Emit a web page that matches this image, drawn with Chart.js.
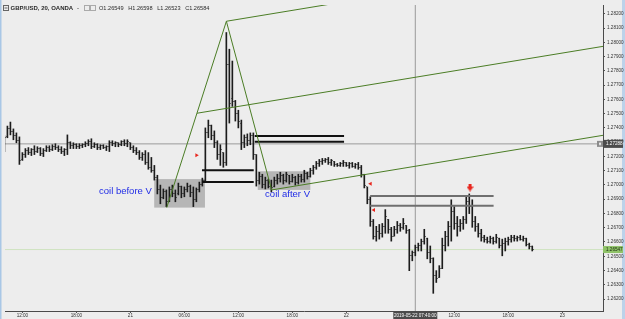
<!DOCTYPE html>
<html><head><meta charset="utf-8">
<script src="https://cdn.jsdelivr.net/npm/chart.js@4.4.1/dist/chart.umd.min.js"></script>
<style>
html,body{margin:0;padding:0;background:#ededed;}
canvas{display:block;}
</style></head><body>
<canvas id="c" width="625" height="319"></canvas>
<script>
// ---- DATA (GBP/USD 20-minute bars, hours relative to 2019-05-21 00:00) ----
const barStartHour = -14;           // first bar: 2019-05-20 10:00
const barStepHours = 1 / 3;         // 20-minute bars

const highs = [
1.27344,1.27413,1.27441,1.27393,1.27365,1.27337,1.27227,1.27255,1.27262,1.27255,
1.27275,1.27268,1.27262,1.27255,1.27275,1.27275,1.27282,1.27289,1.27275,1.27268,
1.27255,1.27351,1.27303,1.27296,1.27289,1.27289,1.27289,1.27303,1.27317,1.27324,
1.27296,1.27289,1.27282,1.27282,1.27275,1.27310,1.27310,1.27303,1.27296,1.27310,
1.27317,1.27317,1.27296,1.27275,1.27262,1.27241,1.27227,1.27241,1.27227,1.27193,
1.27137,1.27068,1.26999,1.26972,1.26965,1.26986,1.26999,1.26965,1.27013,1.26992,
1.26986,1.27013,1.26999,1.26986,1.26979,1.27020,1.27048,1.27400,1.27455,1.27420,
1.27379,1.27310,1.27282,1.27227,1.28069,1.27952,1.27869,1.27593,1.27524,1.27455,
1.27351,1.27358,1.27365,1.27365,1.27213,1.27089,1.27075,1.27055,1.27041,1.27034,
1.27055,1.27075,1.27089,1.27075,1.27089,1.27068,1.27075,1.27061,1.27075,1.27075,
1.27103,1.27089,1.27117,1.27137,1.27165,1.27179,1.27186,1.27186,1.27193,1.27179,
1.27165,1.27151,1.27158,1.27172,1.27158,1.27158,1.27158,1.27151,1.27158,1.27137,
1.27075,1.26986,1.26917,1.26758,1.26710,1.26723,1.26730,1.26827,1.26758,1.26703,
1.26710,1.26744,1.26730,1.26765,1.26716,1.26689,1.26537,1.26578,1.26592,1.26620,
1.26689,1.26627,1.26572,1.26489,1.26399,1.26434,1.26627,1.26675,1.26744,1.26896,
1.26848,1.26779,1.26758,1.26779,1.26917,1.26937,1.26896,1.26779,1.26730,1.26689,
1.26647,1.26634,1.26641,1.26634,1.26654,1.26627,1.26620,1.26627,1.26634,1.26647,
1.26647,1.26641,1.26647,1.26641,1.26627,1.26592,1.26572];

const lows = [
1.27234,1.27331,1.27351,1.27317,1.27296,1.27144,1.27172,1.27193,1.27213,1.27206,
1.27213,1.27227,1.27206,1.27199,1.27234,1.27234,1.27241,1.27248,1.27234,1.27220,
1.27206,1.27213,1.27255,1.27255,1.27255,1.27255,1.27262,1.27268,1.27275,1.27255,
1.27262,1.27248,1.27248,1.27255,1.27241,1.27234,1.27275,1.27268,1.27268,1.27275,
1.27275,1.27268,1.27248,1.27227,1.27213,1.27179,1.27172,1.27144,1.27110,1.27089,
1.27034,1.26937,1.26868,1.26903,1.26848,1.26882,1.26917,1.26882,1.26930,1.26910,
1.26917,1.26951,1.26917,1.26848,1.26882,1.26951,1.26992,1.27020,1.27331,1.27317,
1.27262,1.27179,1.27137,1.27124,1.27137,1.27434,1.27551,1.27448,1.27400,1.27248,
1.27262,1.27275,1.27282,1.27179,1.26992,1.27006,1.26979,1.26972,1.26979,1.26951,
1.26986,1.27006,1.27020,1.27006,1.27020,1.27006,1.27020,1.26999,1.27006,1.27020,
1.27020,1.27041,1.27055,1.27075,1.27110,1.27130,1.27144,1.27158,1.27144,1.27137,
1.27130,1.27130,1.27130,1.27130,1.27130,1.27117,1.27124,1.27117,1.27110,1.27055,
1.26979,1.26868,1.26710,1.26620,1.26606,1.26620,1.26634,1.26661,1.26661,1.26606,
1.26641,1.26661,1.26675,1.26689,1.26661,1.26399,1.26468,1.26503,1.26537,1.26537,
1.26585,1.26482,1.26454,1.26240,1.26316,1.26351,1.26413,1.26537,1.26572,1.26606,
1.26689,1.26641,1.26675,1.26689,1.26730,1.26799,1.26703,1.26675,1.26634,1.26606,
1.26599,1.26592,1.26592,1.26585,1.26592,1.26558,1.26503,1.26537,1.26578,1.26599,
1.26606,1.26606,1.26613,1.26606,1.26572,1.26551,1.26537];

const opens = [
1.27248,1.27337,1.27393,1.27372,1.27344,1.27310,1.27179,1.27213,1.27241,1.27227,
1.27248,1.27234,1.27255,1.27220,1.27241,1.27262,1.27248,1.27268,1.27262,1.27248,
1.27234,1.27248,1.27296,1.27275,1.27282,1.27268,1.27275,1.27282,1.27289,1.27303,
1.27268,1.27282,1.27262,1.27275,1.27262,1.27268,1.27296,1.27289,1.27296,1.27282,
1.27303,1.27289,1.27296,1.27262,1.27241,1.27227,1.27193,1.27213,1.27158,1.27124,
1.27103,1.27055,1.26965,1.26910,1.26951,1.26882,1.26965,1.26937,1.26937,1.26992,
1.26937,1.26965,1.26992,1.26944,1.26896,1.26965,1.27006,1.27034,1.27365,1.27420,
1.27344,1.27296,1.27213,1.27227,1.27158,1.27848,1.27607,1.27586,1.27503,1.27434,
1.27296,1.27331,1.27310,1.27344,1.27213,1.27034,1.27061,1.27006,1.27034,1.26992,
1.26986,1.27034,1.27048,1.27068,1.27034,1.27068,1.27027,1.27055,1.27020,1.27061,
1.27041,1.27082,1.27061,1.27103,1.27124,1.27151,1.27165,1.27172,1.27179,1.27158,
1.27165,1.27144,1.27137,1.27151,1.27158,1.27137,1.27151,1.27130,1.27144,1.27124,
1.27075,1.26986,1.26896,1.26744,1.26641,1.26675,1.26661,1.26710,1.26758,1.26689,
1.26641,1.26689,1.26716,1.26703,1.26716,1.26682,1.26503,1.26523,1.26558,1.26572,
1.26606,1.26627,1.26523,1.26482,1.26365,1.26351,1.26413,1.26572,1.26641,1.26710,
1.26813,1.26730,1.26710,1.26730,1.26758,1.26882,1.26848,1.26744,1.26710,1.26661,
1.26634,1.26620,1.26606,1.26627,1.26606,1.26627,1.26578,1.26592,1.26606,1.26620,
1.26634,1.26627,1.26634,1.26620,1.26627,1.26585,1.26565];

const closes = [
1.27331,1.27393,1.27372,1.27344,1.27310,1.27172,1.27213,1.27241,1.27227,1.27248,
1.27234,1.27255,1.27220,1.27241,1.27262,1.27248,1.27268,1.27262,1.27248,1.27234,
1.27248,1.27296,1.27275,1.27282,1.27268,1.27275,1.27282,1.27289,1.27303,1.27268,
1.27282,1.27262,1.27275,1.27262,1.27268,1.27296,1.27289,1.27296,1.27282,1.27303,
1.27289,1.27303,1.27262,1.27241,1.27227,1.27193,1.27213,1.27158,1.27124,1.27103,
1.27055,1.26965,1.26910,1.26951,1.26882,1.26965,1.26937,1.26910,1.26992,1.26937,
1.26965,1.26992,1.26944,1.26896,1.26965,1.27006,1.27034,1.27365,1.27420,1.27344,
1.27296,1.27213,1.27248,1.27158,1.27848,1.27572,1.27586,1.27503,1.27448,1.27296,
1.27331,1.27310,1.27344,1.27213,1.27034,1.27061,1.27006,1.27034,1.26992,1.26979,
1.27034,1.27048,1.27068,1.27034,1.27075,1.27027,1.27055,1.27020,1.27061,1.27041,
1.27082,1.27061,1.27103,1.27124,1.27151,1.27165,1.27172,1.27179,1.27158,1.27172,
1.27144,1.27137,1.27151,1.27158,1.27137,1.27151,1.27130,1.27144,1.27124,1.27075,
1.26999,1.26896,1.26744,1.26641,1.26675,1.26661,1.26710,1.26779,1.26689,1.26641,
1.26689,1.26716,1.26703,1.26730,1.26682,1.26503,1.26523,1.26558,1.26572,1.26606,
1.26641,1.26523,1.26482,1.26365,1.26344,1.26413,1.26572,1.26641,1.26710,1.26813,
1.26730,1.26710,1.26730,1.26758,1.26882,1.26848,1.26744,1.26710,1.26661,1.26634,
1.26620,1.26606,1.26627,1.26606,1.26634,1.26578,1.26592,1.26606,1.26620,1.26634,
1.26627,1.26634,1.26620,1.26627,1.26585,1.26565,1.26547];

const barTimes = highs.map((_, i) => barStartHour + i * barStepHours);

const xTickValues = [-12, -6, 0, 6, 12, 18, 24, 30, 36, 42, 48];
const xTickLabels = ['12:00','18:00','21','06:00','12:00','18:00','22','06:00','12:00','18:00','23'];
const yTickValues = [1.262,1.263,1.264,1.265,1.266,1.267,1.268,1.269,1.270,1.271,1.272,
                     1.273,1.274,1.275,1.276,1.277,1.278,1.279,1.280,1.281,1.282];

const lastPrice = 1.26547;
const crossTime = 31.6667;          // 2019-05-22 07:40
const crossPrice = 1.27288;

// drawn annotations, in (hours, price)
const vLine      = [[4.04,1.26841],[10.67,1.28148],[15.70,1.26965]];
const forkTop    = [[10.67,1.28148],[52.53,1.28584]];
const forkMid    = [[7.41,1.27503],[52.53,1.27972]];
const forkLow    = [[15.70,1.26965],[52.53,1.27348]];
const blackLevels = [[13.82,23.75,1.27344],[13.82,23.75,1.27303],[7.96,13.71,1.27103],[7.96,13.71,1.27020]];
const grayLevels  = [[26.65,40.37,1.26923],[26.65,40.37,1.26854]];
const coilBoxes   = [[2.65,8.29,1.26841,1.27041],[14.16,20.0,1.26965,1.27096]];
const coilTexts   = [['coil before V',-0.55,1.26955],['coil after V',17.47,1.26935]];
const redRight = [[7.35,1.27208]];
const redLeft  = [[26.69,1.27008],[27.06,1.26825]];
const redDown  = [[37.75,1.26982]];

// ---- RENDERING ----
const X_MIN = -13.935, X_MAX = 52.53;
const Y_MAX = 1.28262, Y_MIN = 1.26116;

function tickImg(side){
  const c = document.createElement('canvas'); c.width = 3; c.height = 1;
  const g = c.getContext('2d'); g.fillStyle = 'rgba(25,25,25,0.6)';
  g.fillRect(side === 'L' ? 0 : 2, 0, 1, 1); return c;
}
function arrowImg(){
  const c = document.createElement('canvas'); c.width = 7; c.height = 8;
  const g = c.getContext('2d'); g.fillStyle = '#e8261e';
  g.fillRect(2,0,3,4);
  g.beginPath(); g.moveTo(0,3); g.lineTo(7,3); g.lineTo(3.5,8); g.closePath(); g.fill();
  return c;
}
const pts = a => a.map(p => ({x:p[0], y:p[1]}));
const seg = (x0,x1,y) => [{x:x0,y:y},{x:x1,y:y}];

function lineDs(data, color, width, order){
  return {type:'line', data, borderColor:color, borderWidth:width, pointRadius:0,
          fill:false, tension:0, order};
}

const datasets = [
  {type:'bar', data: barTimes.map((t,i)=>({x:t, y:[lows[i], highs[i]]})),
   backgroundColor:'#1c1c1c', borderWidth:0, barThickness:1, grouped:false, order:5},
  {type:'scatter', data: barTimes.map((t,i)=>({x:t, y:opens[i]})), pointStyle: tickImg('L'), pointRadius:1, order:4},
  {type:'scatter', data: barTimes.map((t,i)=>({x:t, y:closes[i]})), pointStyle: tickImg('R'), pointRadius:1, order:4},
  lineDs(seg(X_MIN, X_MAX, crossPrice), '#9a9a9a', 1, 9),
  lineDs([{x:crossTime,y:Y_MIN},{x:crossTime,y:Y_MAX}], '#9a9a9a', 1, 9),
  lineDs(seg(X_MIN, X_MAX, lastPrice), '#cfe3c0', 1, 9),
  lineDs(pts(vLine), '#4b7d25', 1, 1),
  lineDs(pts(forkTop), '#4b7d25', 1, 1),
  lineDs(pts(forkMid), '#4b7d25', 1, 1),
  lineDs(pts(forkLow), '#4b7d25', 1, 1),
  ...blackLevels.map(b => lineDs(seg(b[0],b[1],b[2]), '#111111', 2, 2)),
  ...grayLevels.map(b => lineDs(seg(b[0],b[1],b[2]), '#6f6f6f', 2, 2)),
  {type:'scatter', data: pts(redRight), pointStyle:'triangle', rotation:90, pointRadius:2.3,
   backgroundColor:'#e8261e', borderWidth:0, order:0},
  {type:'scatter', data: pts(redLeft), pointStyle:'triangle', rotation:-90, pointRadius:2.3,
   backgroundColor:'#e8261e', borderWidth:0, order:0},
  {type:'scatter', data: pts(redDown), pointStyle: arrowImg(), pointRadius:3, order:0}
];

const FONT = '"Liberation Sans", Arial, sans-serif';

const deco = {
  id:'deco',
  beforeDraw(chart){
    const g = chart.ctx;
    g.save();
    g.fillStyle = '#ededed'; g.fillRect(0,0,chart.width,chart.height);
    g.fillStyle = '#a9c7e6'; g.fillRect(0,0,1.5,chart.height);
    g.fillStyle = '#bcd2ea'; g.fillRect(622,0,3,chart.height);
    g.restore();
  },
  beforeDatasetsDraw(chart){
    const g = chart.ctx, xs = chart.scales.x, ys = chart.scales.y;
    g.save();
    g.fillStyle = 'rgba(115,115,115,0.45)';
    coilBoxes.forEach(b => {
      const x0 = xs.getPixelForValue(b[0]), x1 = xs.getPixelForValue(b[1]);
      const y0 = ys.getPixelForValue(b[3]), y1 = ys.getPixelForValue(b[2]);
      g.fillRect(x0, y0, x1-x0, y1-y0);
    });
    g.restore();
  },
  afterDraw(chart){
    const g = chart.ctx, xs = chart.scales.x, ys = chart.scales.y;
    g.save();
    // coil labels
    g.fillStyle = '#1f2be6'; g.font = '9.5px ' + FONT; g.textAlign = 'center'; g.textBaseline = 'middle';
    coilTexts.forEach(t => g.fillText(t[0], xs.getPixelForValue(t[1]), ys.getPixelForValue(t[2])));
    // title row
    g.textAlign = 'left'; g.textBaseline = 'alphabetic';
    g.strokeStyle = '#666'; g.lineWidth = 1;
    g.strokeRect(3.5,5.5,5,5); g.beginPath(); g.moveTo(4.5,8); g.lineTo(7.5,8); g.stroke();
    g.fillStyle = '#2a2a2a'; g.font = 'bold 6px ' + FONT;
    g.fillText('GBP/USD, 20, OANDA', 10.5, 10.3);
    g.font = '6px ' + FONT; g.fillText('-', 77, 10.3);
    g.strokeStyle = '#aaa'; g.strokeRect(84.5,5.5,5,5); g.strokeRect(90.5,5.5,5,5);
    g.fillStyle = '#2a2a2a'; g.font = '5.6px ' + FONT;
    g.fillText('O1.26549   H1.26598   L1.26523   C1.26584', 99, 10.3);
    // last price label
    const yl = ys.getPixelForValue(lastPrice);
    g.fillStyle = '#8fc268'; g.fillRect(603, yl-3.5, 20, 7);
    g.fillStyle = '#1d2e10'; g.font = '4.6px ' + FONT; g.textBaseline = 'middle';
    g.fillText(lastPrice.toFixed(5), 606, yl+0.3);
    // crosshair price label
    const yc = ys.getPixelForValue(crossPrice);
    g.fillStyle = '#8c8c8c'; g.fillRect(597, yc-3, 6, 6);
    g.fillStyle = '#ffffff'; g.fillRect(599, yc-0.5, 2, 1); g.fillRect(599.5, yc-1.5, 1, 3);
    g.fillStyle = '#4b4b4b'; g.fillRect(603, yc-4, 20, 8);
    g.fillStyle = '#ffffff'; g.fillText(crossPrice.toFixed(5), 606, yc+0.3);
    // crosshair time label
    const xc = xs.getPixelForValue(crossTime);
    g.fillStyle = '#4b4b4b'; g.fillRect(xc-22, 312, 44, 7);
    g.fillStyle = '#ffffff'; g.textAlign = 'center';
    g.fillText('2019-05-22 07:40:00', xc, 315.6);
    g.restore();
  }
};

new Chart(document.getElementById('c'), {
  type:'bar',
  data:{datasets},
  options:{
    responsive:false, devicePixelRatio:1, animation:false, events:[],
    layout:{padding:{left:2, top:0, right:0, bottom:0}},
    plugins:{legend:{display:false}, tooltip:{enabled:false}},
    scales:{
      x:{type:'linear', min:X_MIN, max:X_MAX, offset:false,
         grid:{display:true, drawOnChartArea:false, drawTicks:true, tickLength:2, color:'#555', offset:false},
         border:{display:true, color:'#4a4a4a', width:1},
         ticks:{font:{size:4.6, family:FONT}, color:'#333', padding:0, maxRotation:0, autoSkip:false,
                callback:(v)=>{const i = xTickValues.indexOf(v); return i>=0 ? xTickLabels[i] : '';}},
         afterBuildTicks:s=>{s.ticks = xTickValues.map(v=>({value:v}));},
         afterFit:s=>{s.height = 8;}},
      y:{type:'linear', position:'right', min:Y_MIN, max:Y_MAX,
         grid:{display:true, drawOnChartArea:false, drawTicks:true, tickLength:2, color:'#555'},
         border:{display:true, color:'#4a4a4a', width:1},
         ticks:{font:{size:4.6, family:FONT}, color:'#333', padding:2, autoSkip:false,
                callback:(v)=>Number(v).toFixed(5)},
         afterBuildTicks:s=>{s.ticks = yTickValues.map(v=>({value:v}));},
         afterFit:s=>{s.width = 22;}}
    }
  },
  plugins:[deco]
});
</script></body></html>
